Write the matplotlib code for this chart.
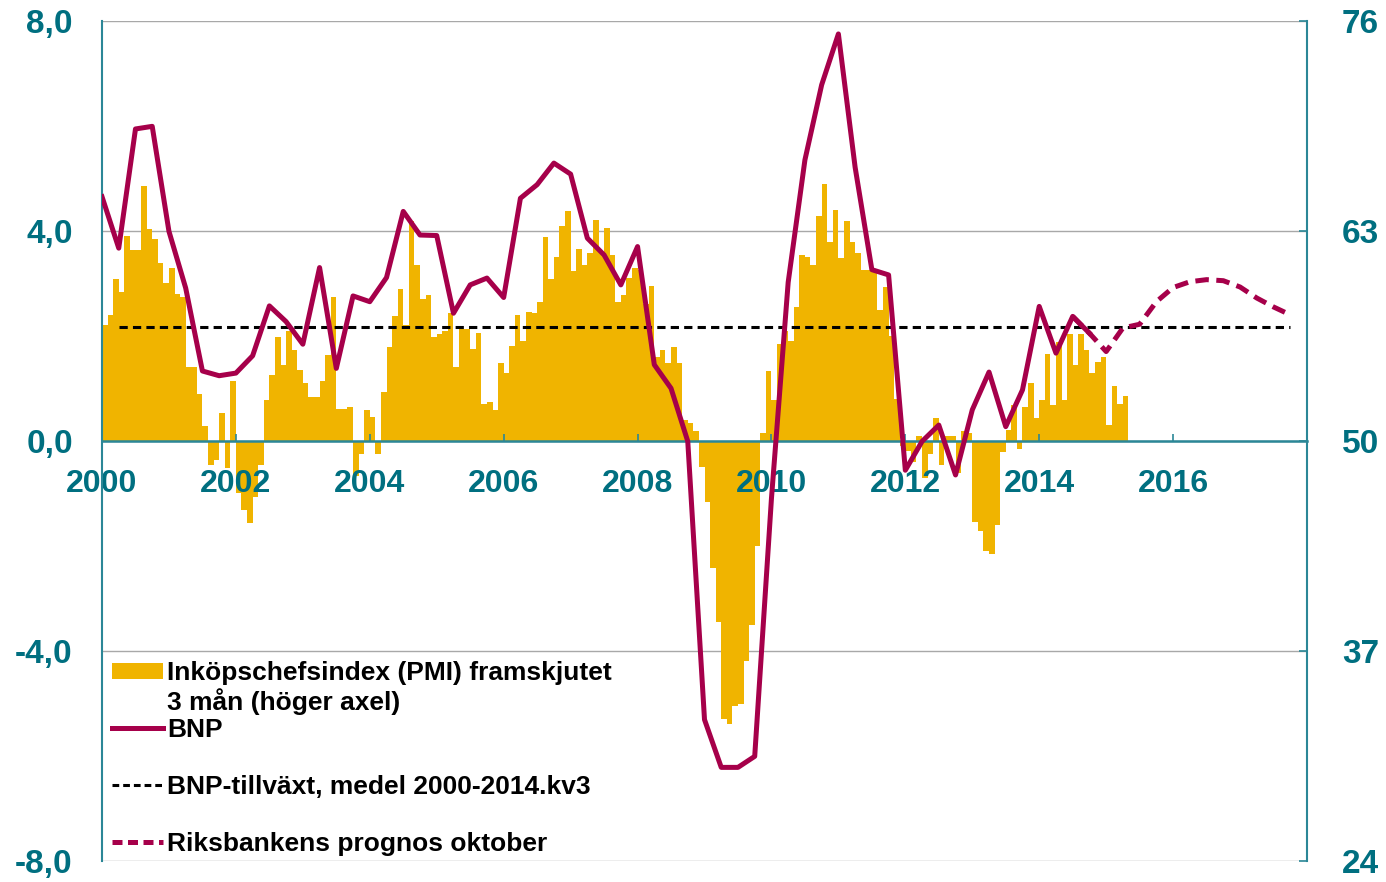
"""
plot.py - BNP growth vs. purchasing managers' index (PMI), Sweden 2000-2017
"""
import numpy as np
import matplotlib.pyplot as plt
from matplotlib.patches import Rectangle

plt.rcParams['font.family'] = ['Liberation Sans', 'DejaVu Sans']
plt.rcParams['font.weight'] = 'bold'

TEAL = '#006F80'
SPINE = '#2B8797'
GOLD = '#F0B400'
CRIMSON = '#A6004A'
GRID = '#A8A8A8'

# PMI shifted forward 3 months, monthly from Jan 2000 (right axis, 50 = neutral)
pmi_start = 2000.0
pmi = [
    57.2, 57.8, 60.0, 59.2, 62.7, 61.8, 61.8, 65.8, 63.1, 62.5, 61.0, 59.8,
    60.7, 59.1, 58.9, 54.6, 54.6, 52.9, 50.9, 48.5, 48.8, 51.7, 48.3, 53.7,
    46.8, 45.7, 44.9, 46.5, 48.5, 52.5, 54.1, 56.4, 54.7, 56.8, 55.6, 54.4,
    53.6, 52.7, 52.7, 53.7, 55.3, 58.9, 52.0, 52.0, 52.1, 47.8, 49.2, 51.9,
    51.5, 49.2, 53.0, 55.8, 57.7, 59.4, 57.2, 63.6, 60.9, 58.8, 59.0, 56.4,
    56.6, 56.8, 57.9, 54.6, 56.9, 56.9, 55.7, 56.7, 52.3, 52.4, 51.9, 54.8,
    54.2, 55.9, 57.8, 56.2, 58.0, 57.9, 58.6, 62.6, 60.0, 61.4, 63.3, 64.2,
    60.5, 61.9, 60.9, 61.6, 63.7, 61.6, 63.2, 61.5, 58.6, 59.0, 60.1, 60.7,
    60.6, 58.5, 59.6, 55.2, 55.6, 54.8, 55.8, 54.8, 51.3, 51.1, 50.6, 48.4,
    46.2, 42.1, 38.8, 32.8, 32.5, 33.6, 33.7, 36.4, 38.6, 43.5, 50.5, 54.3,
    52.5, 56.0, 56.8, 56.2, 58.3, 61.5, 61.4, 60.9, 63.9, 65.9, 62.3, 64.3,
    61.3, 63.6, 62.3, 61.6, 60.6, 60.6, 60.5, 58.1, 59.5, 56.5, 52.6, 49.7,
    49.4, 48.7, 50.3, 47.7, 49.2, 51.4, 48.5, 50.3, 50.3, 48.0, 50.6, 50.5,
    45.0, 44.4, 43.2, 43.0, 44.8, 49.3, 50.7, 52.2, 49.5, 52.1, 53.6, 51.4,
    52.5, 55.4, 52.2, 56.1, 52.5, 56.6, 54.7, 56.6, 55.6, 54.2, 54.9, 55.2,
    51.0, 53.4, 52.3, 52.8,
]
pmi_neutral = 50

# BNP, annual growth in percent, quarterly from 2000 kv1 (left axis)
bnp_start = 2000.0
bnp = [
    4.65, 3.67, 5.94, 5.99, 3.99, 2.91, 1.33, 1.24, 1.29, 1.62,
    2.57, 2.27, 1.84, 3.30, 1.38, 2.76, 2.65, 3.11, 4.37, 3.92,
    3.91, 2.43, 2.97, 3.10, 2.73, 4.62, 4.88, 5.29, 5.08, 3.86,
    3.54, 2.97, 3.70, 1.45, 1.00, -0.01, -5.31, -6.22, -6.22, -6.01,
    -1.10, 3.02, 5.35, 6.78, 7.75, 5.21, 3.26, 3.16, -0.56, -0.01,
    0.30, -0.65, 0.59, 1.31, 0.27, 0.97, 2.56, 1.67, 2.37, 2.05,
]

# Riksbank forecast (October), quarterly from 2014 kv3
forecast_start = 2014.5
forecast = [2.37, 2.05, 1.70, 2.15, 2.22, 2.65, 2.92, 3.03, 3.07, 3.05,
            2.93, 2.72, 2.55, 2.40]

# average BNP growth 2000-2014 kv3, drawn over the whole period
bnp_mean = 2.17
mean_quarters = [2000.25, 2017.75]

year_ticks = [2000, 2002, 2004, 2006, 2008, 2010, 2012, 2014, 2016]
left_ticks = [-8, -4, 0, 4, 8]
right_ticks = [24, 37, 50, 63, 76]

legend_labels = [
    'Inköpschefsindex (PMI) framskjutet\n3 mån (höger axel)',
    'BNP',
    'BNP-tillväxt, medel 2000-2014.kv3',
    'Riksbankens prognos oktober',
]

# x positions: months and quarters as decimal years
months = pmi_start + np.arange(len(pmi)) / 12
quarters = bnp_start + np.arange(len(bnp)) * 0.25
forecast_q = forecast_start + np.arange(len(forecast)) * 0.25

fig = plt.figure(figsize=(13.86, 8.82), dpi=100)
ax1 = fig.add_axes([0.0736, 0.0240, 0.8694, 0.9524])
ax2 = ax1.twinx()

# left axis on top so the lines sit above the bars
ax1.set_zorder(2)
ax2.set_zorder(1)
ax1.patch.set_visible(False)
ax2.patch.set_visible(True)
ax2.patch.set_facecolor('white')

# --- right axis: PMI bars ---
ax2.bar(months, np.array(pmi) - pmi_neutral, bottom=pmi_neutral, width=1 / 12,
        align='edge', color=GOLD, linewidth=0, antialiased=False, zorder=2)
ax2.set_ylim(24, 76)
ax2.set_yticks(right_ticks)
ax2.set_yticklabels([str(t) for t in right_ticks])
ax2.tick_params(axis='y', direction='in', length=6, width=1.2, color=SPINE,
                labelcolor=TEAL, labelsize=24, pad=25)
ax2.grid(axis='y', color=GRID, linewidth=1.0, zorder=0)
ax2.set_axisbelow(True)
for side in ['left', 'top', 'bottom']:
    ax2.spines[side].set_visible(False)
ax2.spines['right'].set_color(SPINE)
ax2.spines['right'].set_linewidth(1.5)

# --- left axis: BNP lines ---
ax1.plot(mean_quarters, [bnp_mean, bnp_mean], color='black', linewidth=2.2,
         dashes=(2.7, 1.7), zorder=3)
ax1.plot(quarters, bnp, color=CRIMSON, linewidth=3.6, zorder=4)
ax1.plot(forecast_q, forecast, color=CRIMSON, linewidth=3.6,
         dashes=(2.7, 1.5), zorder=4)

ax1.set_xlim(2000, 2018)
ax1.set_ylim(-8, 8)
ax1.set_yticks(left_ticks)
ax1.set_yticklabels([f'{t:.1f}'.replace('.', ',') for t in left_ticks])
ax1.tick_params(axis='y', length=0, labelcolor=TEAL, labelsize=24, pad=21)
ax1.set_xticks(year_ticks)
ax1.set_xticklabels([str(y) for y in year_ticks])
ax1.tick_params(axis='x', direction='in', length=5, width=1.2, color=SPINE,
                labelcolor=TEAL, labelsize=23, pad=20)

# x axis sits on the zero line
ax1.spines['bottom'].set_position(('data', 0))
ax1.spines['bottom'].set_color(SPINE)
ax1.spines['bottom'].set_linewidth(1.8)
ax1.spines['bottom'].set_zorder(1.5)
ax1.spines['left'].set_color(SPINE)
ax1.spines['left'].set_linewidth(1.5)
ax1.spines['top'].set_visible(False)
ax1.spines['right'].set_visible(False)

# --- legend, drawn by hand: rows 57 px apart, handle on the first text line ---
row_y = [0.2262, 0.1583, 0.0905, 0.0226]
hx0, hx1, tx = 0.0083, 0.0506, 0.0539
tr = ax1.transAxes
ax1.add_patch(Rectangle((hx0, row_y[0] - 0.0095), hx1 - hx0, 0.019,
                        transform=tr, color=GOLD, linewidth=0, clip_on=False))
ax1.plot([hx0, hx1], [row_y[1]] * 2, transform=tr, color=CRIMSON,
         linewidth=3.6, clip_on=False)
ax1.plot([hx0, hx1], [row_y[2]] * 2, transform=tr, color='black',
         linewidth=2.2, dashes=(2.2, 1.3), clip_on=False)
ax1.plot([hx0, hx1], [row_y[3]] * 2, transform=tr, color=CRIMSON,
         linewidth=3.6, dashes=(2.0, 1.1), clip_on=False)
for y, label in zip(row_y, legend_labels):
    ax1.text(tx, y + 0.0118, label, transform=tr, ha='left', va='top',
             fontsize=19, color='black', linespacing=1.17)

fig.savefig('out.png', dpi=100)
